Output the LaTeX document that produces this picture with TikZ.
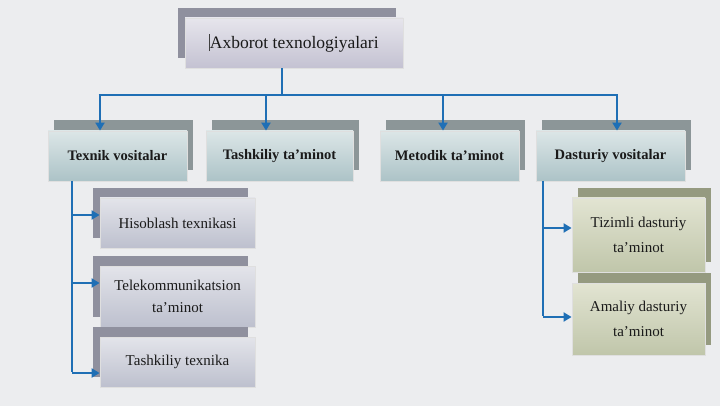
\documentclass[tikz,border=0pt]{standalone}
\usepackage{fontspec}
\setmainfont{Liberation Serif}
\usetikzlibrary{shadows,arrows.meta}
\definecolor{bg}{HTML}{ECEDEF}
\definecolor{lineblue}{HTML}{1F6FB5}
\definecolor{shA}{HTML}{8F909E}
\definecolor{shB}{HTML}{8C9698}
\definecolor{shC}{HTML}{959A80}
\definecolor{tA}{HTML}{E6E5EC}
\definecolor{bA}{HTML}{C4C2D2}
\definecolor{tB}{HTML}{DCE6E7}
\definecolor{bB}{HTML}{ACC3C7}
\definecolor{tC}{HTML}{E3E4EA}
\definecolor{bC}{HTML}{BDC0CE}
\definecolor{tD}{HTML}{E2E4D2}
\definecolor{bD}{HTML}{C0C6AA}
\definecolor{txt}{HTML}{1A1A1A}
\tikzset{
  box/.style={rectangle, draw=white!75!gray, line width=0.8pt, align=center, inner sep=2pt, text=txt},
  topbox/.style={box, top color=tA, bottom color=bA,
     general shadow={fill=shA, shadow xshift=-7pt, shadow yshift=10pt},
     font=\fontsize{17.5}{20}\selectfont, minimum width=218pt, minimum height=50pt},
  lvlbox/.style={box, top color=tB, bottom color=bB,
     general shadow={fill=shB, shadow xshift=6pt, shadow yshift=11pt},
     font=\bfseries\fontsize{14.5}{16}\selectfont, minimum height=50pt},
  subbox/.style={box, top color=tC, bottom color=bC,
     general shadow={fill=shA, shadow xshift=-7pt, shadow yshift=10pt},
     font=\fontsize{15}{22}\selectfont, minimum width=155pt},
  grnbox/.style={box, top color=tD, bottom color=bD,
     general shadow={fill=shC, shadow xshift=6pt, shadow yshift=10pt},
     font=\fontsize{15}{25}\selectfont, minimum width=133pt},
  conn/.style={draw=lineblue, line width=2.8pt},
  arr/.style={conn, -{Triangle[length=8pt,width=9pt]}}
}
\begin{document}
\begin{tikzpicture}[x=1pt,y=-1pt]
\useasboundingbox (0,0) rectangle (720,406);
\fill[bg] (0,0) rectangle (720,406);
\node[topbox] (top) at (294,43) {{\color{darkgray}\rule[-3pt]{0.6pt}{17pt}}Axborot texnologiyalari};
\node[lvlbox, minimum width=139pt] (tex) at (117.5,156) {Texnik vositalar};
\node[lvlbox, minimum width=147pt] (tash) at (279.5,156) {Tashkiliy ta’minot};
\node[lvlbox, minimum width=139pt] (met) at (449.5,156) {Metodik ta’minot};
\node[lvlbox, minimum width=149pt] (dast) at (610.5,156) {Dasturiy vositalar};
\node[subbox, minimum height=50pt] (his) at (177.5,223) {Hisoblash texnikasi};
\node[subbox, minimum height=61pt] (tel) at (177.5,296.5) {Telekommunikatsion\\ta’minot};
\node[subbox, minimum height=50pt] (tt) at (177.5,362) {Tashkiliy texnika};
\node[grnbox, minimum height=74pt] (tiz) at (638.5,235) {Tizimli dasturiy\\ta’minot};
\node[grnbox, minimum height=72pt] (ama) at (638.5,319) {Amaliy dasturiy\\ta’minot};
% bus
\coordinate (b0) at (282,95);
\coordinate (b1) at (100,95);
\coordinate (b2) at (266,95);
\coordinate (b3) at (443,95);
\coordinate (b4) at (617,95);
\draw[conn] ([xshift=-12pt]top.south) -- (b0);
\draw[conn] ([xshift=-1.4pt]b1) -- ([xshift=1.4pt]b4);
\draw[arr] (b1) -- (b1 |- tex.north);
\draw[arr] (b2) -- (b2 |- tash.north);
\draw[arr] (b3) -- (b3 |- met.north);
\draw[arr] (b4) -- (b4 |- dast.north);
% left branch
\coordinate (l0) at (72,181);
\coordinate (l1) at (72,215);
\coordinate (l2) at (72,283);
\coordinate (l3) at (72,373);
\draw[conn] (l0) -- ([yshift=1.4pt]l3);
\draw[arr] (l1) -- (l1 -| his.west);
\draw[arr] (l2) -- (l2 -| tel.west);
\draw[arr] (l3) -- (l3 -| tt.west);
% right branch
\coordinate (r0) at (543,181);
\coordinate (r1) at (543,228);
\coordinate (r2) at (543,317);
\draw[conn] (r0) -- ([yshift=1.4pt]r2);
\draw[arr] (r1) -- (r1 -| tiz.west);
\draw[arr] (r2) -- (r2 -| ama.west);
\end{tikzpicture}
\end{document}
